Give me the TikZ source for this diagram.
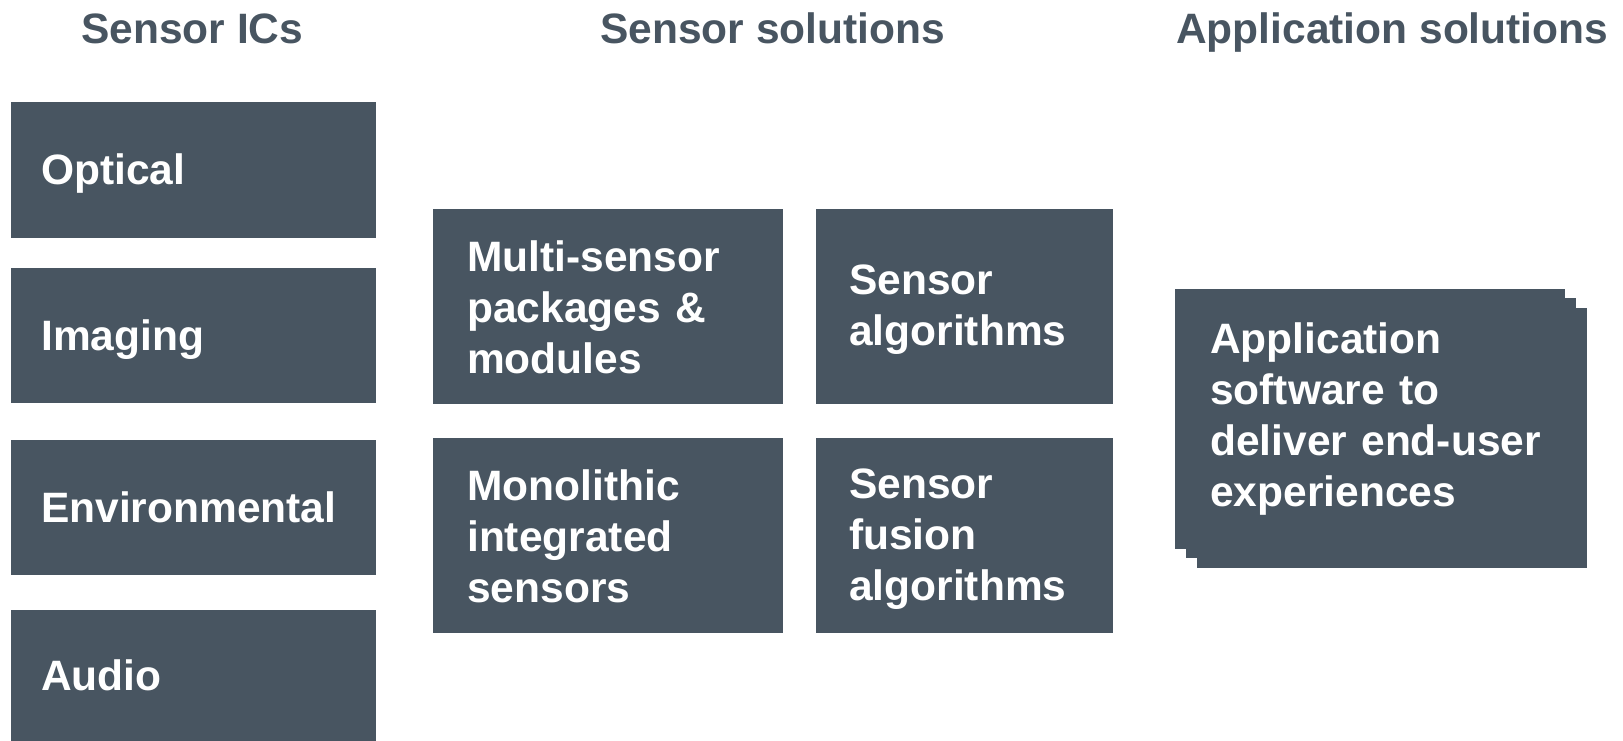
\documentclass[tikz,border=0pt]{standalone}
\usepackage{fontspec}
\setmainfont{Liberation Sans}
\definecolor{slate}{RGB}{72,85,97}
\begin{document}
\begin{tikzpicture}[x=1pt,y=-1pt,
  panel/.style={fill=slate, draw=none, inner sep=0pt, outer sep=0pt, anchor=north west},
  boxtext/.style={anchor=base west, inner sep=0pt, text=white,
    font=\bfseries\fontsize{42.5}{51}\selectfont, align=left, text width=370pt},
  heading/.style={anchor=base west, inner sep=0pt, text=slate,
    font=\bfseries\fontsize{42.5}{51}\selectfont}]
\useasboundingbox (0,0) rectangle (1623,741);

% column headings
\node[heading] (hics) at (81,44) {Sensor ICs};
\node[heading] (hsol) at (600,44) {Sensor solutions};
\node[heading] (happ) at (1176,44) {Application solutions};

% sensor IC column
\node[panel, minimum width=365pt, minimum height=136pt] (optical) at (11,102) {};
\node[panel, minimum width=365pt, minimum height=135pt] (imaging) at (11,268) {};
\node[panel, minimum width=365pt, minimum height=135pt] (environmental) at (11,440) {};
\node[panel, minimum width=365pt, minimum height=131pt] (audio) at (11,610) {};
\node[boxtext] (topt) at (41,185) {Optical};
\node[boxtext] (timg) at (41,350) {Imaging};
\node[boxtext] (tenv) at (41,522) {Environmental};
\node[boxtext] (taud) at (41,690) {Audio};

% sensor solution blocks
\node[panel, minimum width=350pt, minimum height=195pt] (multi) at (433,209) {};
\node[panel, minimum width=297pt, minimum height=195pt] (algo) at (816,209) {};
\node[panel, minimum width=350pt, minimum height=195pt] (mono) at (433,438) {};
\node[panel, minimum width=297pt, minimum height=195pt] (fusion) at (816,438) {};
\node[boxtext] (tmulti) at (467,271) {Multi-sensor\\packages \&\\modules};
\node[boxtext] (talgo) at (849,294) {Sensor\\algorithms};
\node[boxtext] (tmono) at (467,500) {Monolithic\\integrated\\sensors};
\node[boxtext] (tfusion) at (849,498) {Sensor\\fusion\\algorithms};

% stacked application block
\node[panel, minimum width=390pt, minimum height=260pt] (appc) at (1197,308) {};
\node[panel, minimum width=390pt, minimum height=260pt] (appb) at (1186,298) {};
\node[panel, minimum width=390pt, minimum height=260pt] (appa) at (1175,289) {};
\node[boxtext] (tapp) at (1210,353) {Application\\software to\\deliver end-user\\experiences};
\end{tikzpicture}
\end{document}
